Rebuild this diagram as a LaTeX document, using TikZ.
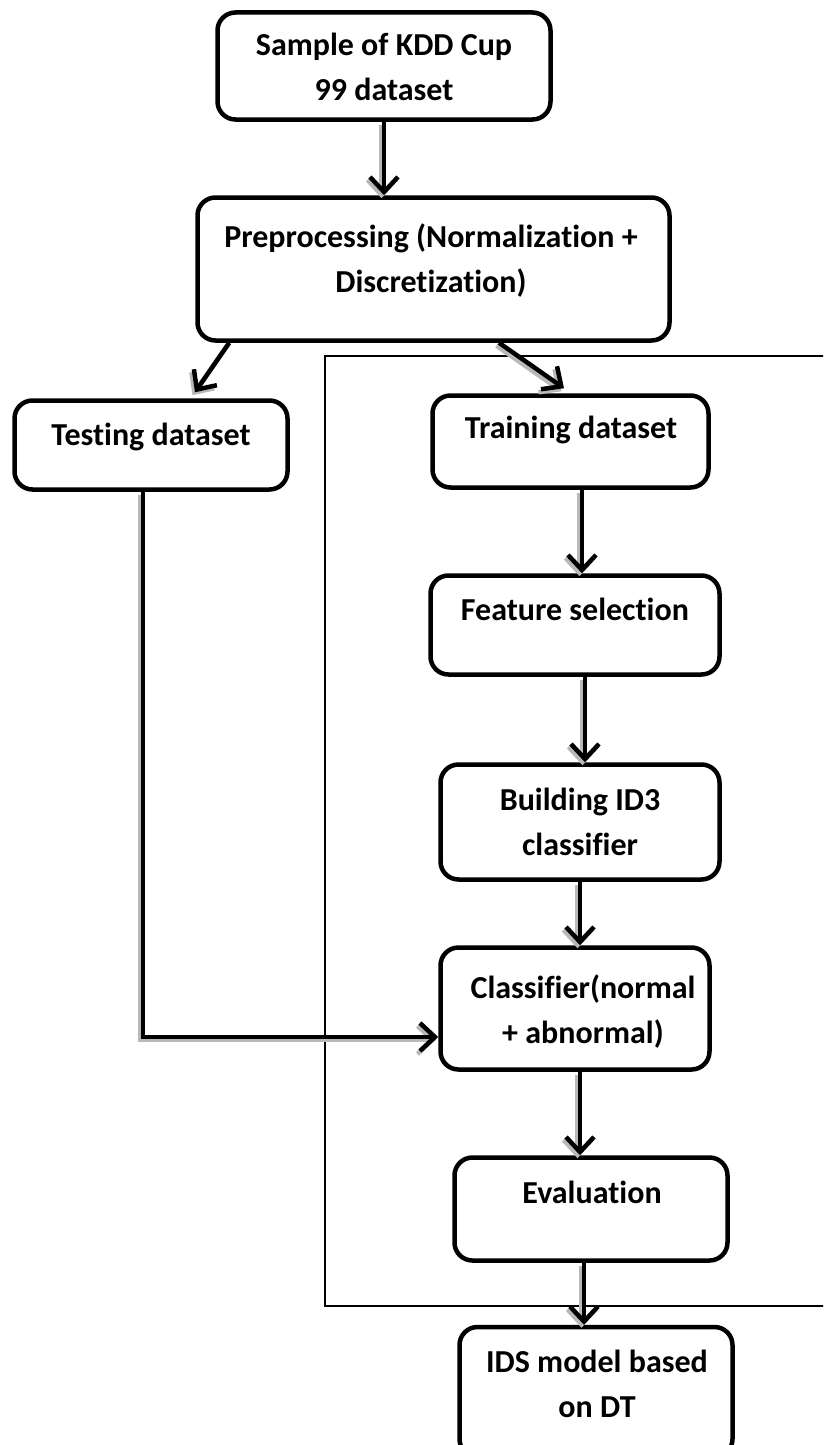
\documentclass[tikz,border=0pt]{standalone}
\usepackage{fontspec}
\setmainfont[Ligatures=NoCommon]{Carlito}
\usetikzlibrary{arrows.meta,calc}
\newcommand\myconn[1]{\draw[connshade] #1; \draw[conn] #1;}
\begin{document}
\begin{tikzpicture}[x=1pt,y=-1pt,
  box/.style={draw, line width=4.5pt, rounded corners=18pt, inner sep=0pt, fill=none},
  txt/.style={font=\fontsize{32}{45}\selectfont\bfseries, align=center, anchor=base, inner sep=0pt},
  conn/.style={line width=4.5pt, -{Straight Barb[length=15pt,width=28pt,line width=4.5pt]}},
  connshade/.style={conn, draw=gray!55, transform canvas={shift={(-2.5pt,-3pt)}}},
  frame/.style={line width=2pt}]
\useasboundingbox (0,0) rectangle (823,1445);
\clip (0,0) rectangle (823,1445);
\fill[white] (0,0) rectangle (823,1445);

% frame
\draw[frame] (325,356) rectangle (840,1306);

% boxes
\node[box, minimum width=333pt, minimum height=107pt] (top) at (384,66) {};
\node[box, minimum width=472pt, minimum height=143pt] (pre) at (433.5,269) {};
\node[box, minimum width=273pt, minimum height=89pt] (test) at (151,445) {};
\node[box, minimum width=276pt, minimum height=92pt] (train) at (570.5,441.5) {};
\node[box, minimum width=289pt, minimum height=99pt] (feat) at (575,625) {};
\node[box, minimum width=279pt, minimum height=115pt] (build) at (580,822) {};
\node[box, minimum width=269pt, minimum height=122pt] (cls) at (575,1008.5) {};
\node[box, minimum width=273pt, minimum height=103pt] (eval) at (591,1209) {};
\node[box, minimum width=273pt, minimum height=130pt] (ids) at (596,1392) {};

% texts (anchor base = last line's baseline)
\node[txt] (ttop) at (384,100) {Sample of KDD Cup\\99 dataset};
\node[txt] (tpre) at (431,292) {Preprocessing (Normalization +\\Discretization)};
\node[txt] (ttest) at (151,445) {Testing dataset};
\node[txt] (ttrain) at (571,438) {Training dataset};
\node[txt] (tfeat) at (575,620) {Feature selection};
\node[txt] (tbuild) at (580,855) {Building ID3\\classifier};
\node[txt] (tcls) at (583,1043) {Classifier(normal\\+ abnormal)};
\node[txt] (teval) at (592,1203) {Evaluation};
\node[txt] (tids) at (597,1417) {IDS model based\\on DT};

% connectors
\myconn{(top.south) -- (top.south |- pre.north)}
\myconn{([xshift=34pt]pre.south west) -- ([xshift=44pt,yshift=6pt]test.north)}
\myconn{([xshift=65.5pt]pre.south) -- ([xshift=-6.5pt,yshift=5pt]train.north)}
\myconn{([xshift=11.5pt]train.south) -- ([xshift=7pt]feat.north)}
\myconn{([xshift=10pt]feat.south) -- ([xshift=5pt]build.north)}
\myconn{(build.south) -- ([xshift=5pt]cls.north)}
\myconn{([xshift=5pt]cls.south) -- ([xshift=-11pt]eval.north)}
\myconn{([xshift=-7pt]eval.south) -- ([xshift=-12pt]ids.north)}
\myconn{([xshift=-8pt]test.south) |- ([yshift=-28.5pt]cls.west)}
\end{tikzpicture}
\end{document}
